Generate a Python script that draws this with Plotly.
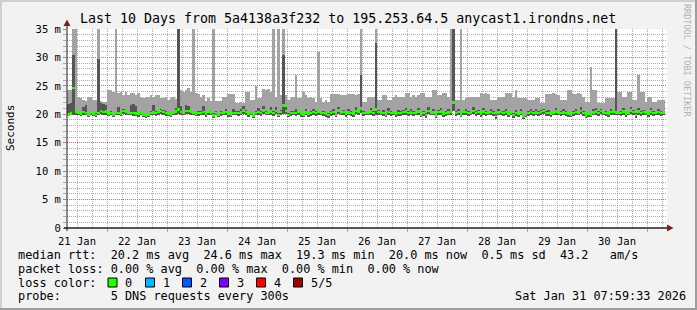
import plotly.graph_objects as go
import pandas as pd

# ---------------- data (ms), one value per hour, 240 hours ----------------
start = "2026-01-21 08:00"
end = "2026-01-31 08:00"

smoke_hi = [
 24.3,24.3,40,40,23.1,22.8,22.5,22.3,23.1,23.1,
 22.5,22.5,40,22.0,21.9,22.2,24.3,24.3,24.0,40,
 23.7,24.0,23.4,24.0,23.4,23.8,23.7,23.4,23.7,23.0,
 22.8,23.0,23.1,23.4,23.0,23.4,23.4,22.9,22.8,23.0,
 22.6,22.8,23.0,22.7,40,24.3,24.0,24.3,24.6,24.0,
 40,23.7,23.6,23.0,23.4,22.4,22.8,22.3,40,22.3,
 22.3,22.3,23.1,23.1,23.5,23.5,23.5,22.0,21.9,22.1,
 22.0,24.0,24.0,22.5,22.5,25.0,22.8,22.8,24.5,24.2,
 24.5,24.0,40,23.1,40,23.4,40,23.4,22.5,22.8,
 23.1,26.9,22.8,22.8,24.0,23.4,22.8,23.1,22.8,22.2,
 31.0,22.8,22.2,22.5,22.2,23.5,23.5,23.6,23.5,23.4,
 23.4,23.4,23.5,23.6,23.5,23.4,23.5,40,22.2,22.2,
 23.1,23.1,23.1,40,22.5,22.5,23.4,23.4,22.5,22.5,
 23.1,23.4,23.1,23.1,23.1,23.7,23.7,23.1,23.4,23.1,
 23.4,23.7,23.7,23.1,23.1,23.1,24.3,24.3,23.4,23.4,
 23.8,23.8,23.1,40,40,22.5,22.5,40,22.5,22.8,
 23.1,23.1,23.1,23.1,23.1,23.7,23.5,23.7,23.5,22.5,
 22.5,22.5,23.1,23.1,23.1,23.7,23.7,23.7,23.1,24.3,
 22.8,22.8,22.8,22.8,22.5,22.5,22.5,22.8,22.8,21.9,
 21.9,23.5,23.6,23.5,23.7,23.5,23.4,22.5,22.5,22.5,
 24.3,24.3,23.6,23.5,23.7,23.5,23.1,22.2,22.2,28.4,
 24.3,24.3,21.9,21.9,21.9,22.8,22.8,22.8,22.8,40,
 24.0,24.0,23.1,23.1,24.0,24.0,22.5,22.5,26.9,24.0,
 24.0,22.2,23.1,23.1,22.2,22.2,22.5,22.5,22.5,None]

smoke_dark_top = [
 21.8,22.0,30.4,20.8,20.6,20.4,21.2,21.6,20.3,20.6,
 20.4,20.2,29.8,22.3,22.0,21.6,20.4,20.5,20.3,20.6,
 21.3,20.4,20.9,20.8,20.6,21.6,21.8,21.5,20.4,20.6,
 20.3,20.1,20.3,20.5,21.6,20.5,20.8,20.9,20.7,20.5,
 20.4,20.3,20.6,21.1,40,21.5,20.6,21.7,21.4,20.8,
 20.6,20.4,20.5,20.5,21.4,20.4,20.8,20.6,20.2,20.5,
 20.3,20.5,20.6,21.0,20.4,20.3,20.9,20.5,20.5,21.0,
 21.4,20.7,20.4,20.6,20.1,20.5,21.1,20.5,21.4,20.5,
 20.6,21.2,20.5,21.2,20.2,20.7,30.4,21.2,20.2,20.5,
 20.5,21.0,20.8,20.4,20.3,21.0,20.4,20.5,21.0,20.5,
 20.8,20.6,20.5,20.4,20.2,20.5,21.0,20.3,21.3,20.6,
 20.7,20.4,20.9,20.5,20.4,21.2,20.8,26.9,20.5,20.6,
 20.6,21.1,20.5,32.5,20.7,20.6,20.8,20.3,21.1,20.5,
 20.6,20.4,20.8,20.5,20.7,21.1,20.5,21.0,20.5,20.6,
 21.1,20.3,20.5,20.2,21.2,20.6,20.9,20.1,20.7,21.1,
 20.4,20.5,20.9,20.8,40,20.5,21.0,20.3,20.8,21.0,
 20.5,20.6,21.2,20.5,20.7,20.4,21.1,20.5,20.6,21.0,
 20.5,20.0,20.9,20.8,20.5,21.0,20.4,20.6,20.2,20.8,
 20.4,20.9,19.9,20.3,20.5,21.0,20.5,20.9,20.5,20.7,
 21.0,20.5,20.8,20.4,20.6,21.1,20.6,20.5,20.9,20.5,
 20.4,20.3,20.5,21.0,20.6,21.2,20.5,20.1,20.4,20.3,
 20.9,21.1,20.5,21.0,20.6,20.5,20.4,21.0,20.8,40,
 20.6,20.5,21.1,20.4,20.6,21.3,20.7,20.2,21.1,20.5,
 20.7,20.6,20.4,21.1,20.5,20.6,21.0,20.5,20.6,None]

smoke_lo = [
 19.7,19.8,19.9,19.9,19.8,19.7,19.9,19.8,19.6,19.8,
 19.7,19.5,19.8,20.0,19.9,19.9,19.7,19.8,19.6,19.8,
 19.8,19.7,20.0,19.9,19.8,19.8,19.7,19.7,19.6,19.8,
 19.6,19.4,19.6,19.8,19.8,19.7,19.9,20.0,19.9,19.7,
 19.7,19.6,19.8,19.9,20.0,19.9,19.8,20.0,20.0,19.9,
 19.8,19.7,19.7,19.8,19.9,19.6,19.9,19.8,19.4,19.8,
 19.6,19.7,19.8,19.9,19.6,19.5,19.8,19.8,19.7,19.8,
 20.0,19.9,19.6,19.8,19.3,19.8,19.9,19.7,20.1,19.8,
 19.8,19.9,19.7,20.0,19.5,19.9,20.0,20.0,19.5,19.7,
 19.8,19.7,19.9,19.6,19.5,19.8,19.6,19.7,19.9,19.7,
 19.9,19.8,19.7,19.6,19.4,19.7,19.9,19.5,20.0,19.8,
 19.9,19.6,19.8,19.7,19.6,20.0,19.9,20.2,19.7,19.8,
 19.8,19.9,19.7,19.9,19.9,19.8,19.7,19.5,19.9,19.7,
 19.8,19.6,19.7,19.7,19.9,19.9,19.7,19.8,19.7,19.8,
 19.9,19.5,19.7,19.4,20.0,19.8,19.8,19.3,19.9,19.9,
 19.6,19.7,19.8,19.9,20.5,19.7,19.9,19.5,19.9,19.9,
 19.7,19.8,20.0,19.7,19.9,19.6,19.9,19.7,19.8,19.9,
 19.7,19.2,19.8,19.9,19.7,19.9,19.6,19.8,19.4,19.7,
 19.6,19.8,19.2,19.5,19.7,19.9,19.7,19.8,19.7,19.9,
 20.0,19.7,19.7,19.6,19.8,19.9,19.8,19.7,19.8,19.7,
 19.6,19.5,19.7,19.9,19.8,20.0,19.7,19.3,19.6,19.5,
 19.8,19.9,19.7,20.0,19.8,19.7,19.6,19.9,19.9,19.8,
 19.8,19.7,19.9,19.6,19.8,20.1,19.9,19.4,19.9,19.7,
 19.9,19.8,19.6,19.9,19.7,19.8,19.9,19.7,19.8,None]

median_rtt = [
 20.0,20.1,24.6,20.5,20.3,20.1,20.4,20.2,20.0,20.3,
 20.1,19.9,20.2,20.6,20.4,20.5,20.1,20.2,20.0,20.3,
 20.2,20.1,20.6,20.5,20.3,20.2,20.2,20.1,20.1,20.3,
 20.0,19.8,20.0,20.2,20.3,20.2,20.5,20.6,20.4,20.2,
 20.1,20.0,20.3,20.5,20.8,20.4,20.3,20.6,20.6,20.5,
 20.3,20.1,20.2,20.2,20.4,20.1,20.5,20.3,19.8,20.2,
 20.0,20.2,20.3,20.4,20.1,20.0,20.2,20.2,20.2,20.3,
 20.7,20.4,20.1,20.3,19.8,20.2,20.4,20.2,20.7,20.2,
 20.3,20.5,20.2,20.6,19.9,20.4,21.5,20.6,19.9,20.2,
 20.2,20.2,20.5,20.1,20.0,20.3,20.1,20.2,20.4,20.2,
 20.5,20.3,20.2,20.1,19.9,20.2,20.4,20.0,20.7,20.3,
 20.4,20.1,20.3,20.2,20.1,20.6,20.5,21.0,20.2,20.3,
 20.3,20.5,20.2,20.8,20.4,20.3,20.2,20.0,20.4,20.2,
 20.3,20.1,20.2,20.2,20.4,20.5,20.2,20.3,20.2,20.3,
 20.5,20.0,20.2,19.9,20.6,20.3,20.3,19.8,20.4,20.5,
 20.1,20.2,20.3,20.5,22.1,20.2,20.4,20.0,20.5,20.4,
 20.2,20.3,20.6,20.2,20.4,20.1,20.5,20.2,20.3,20.4,
 20.2,19.7,20.3,20.5,20.2,20.4,20.1,20.3,19.9,20.2,
 20.1,20.3,19.6,20.0,20.2,20.4,20.2,20.3,20.2,20.4,
 20.6,20.2,20.2,20.1,20.3,20.5,20.3,20.2,20.3,20.2,
 20.1,20.0,20.2,20.4,20.3,20.6,20.2,19.8,20.1,20.0,
 20.3,20.5,20.2,20.6,20.3,20.2,20.1,20.4,20.5,20.3,
 20.3,20.2,20.5,20.1,20.3,20.7,20.4,19.9,20.5,20.2,
 20.4,20.3,20.1,20.5,20.2,20.3,20.4,20.2,20.3,None]

y_ticks = [0, 5, 10, 15, 20, 25, 30, 35]
y_tick_labels = ["0", "5 m", "10 m", "15 m", "20 m", "25 m", "30 m", "35 m"]

title = "Last 10 Days from 5a4138a3f232 to 195.253.64.5 anycast1.irondns.net"
legend_rows = [
    "median rtt:  20.2 ms avg  24.6 ms max  19.3 ms min  20.0 ms now  0.5 ms sd  43.2   am/s",
    "packet loss: 0.00 % avg  0.00 % max  0.00 % min  0.00 % now",
    "loss color:",
    "probe:       5 DNS requests every 300s",
]
stamp = "Sat Jan 31 07:59:33 2026"
loss_labels = ["0", "1", "2", "3", "4", "5/5"]
loss_colors = ["#26ff00", "#00b8ff", "#0059ff", "#7e00ff", "#ff0000", "#a10000"]

# ---------------- figure ----------------
W, H = 697, 310
L, R, T, B = 67, 667, 29, 228
FONT = "DejaVu Sans Mono"
LIGHT = "rgb(163,163,163)"
DARK = "rgb(86,86,86)"
BRICK = 0.45

times = pd.date_range(start, periods=len(median_rtt), freq="h")
step_ms = 3600 * 1000


def nz(a, b):
    return [None if (p is None or q is None) else p - q for p, q in zip(a, b)]


fig = go.Figure()
fig.add_trace(go.Bar(x=times, base=smoke_lo, y=nz(smoke_dark_top, smoke_lo),
                     width=step_ms, offset=0, marker=dict(color=DARK, line=dict(width=0)),
                     hoverinfo="skip"))
fig.add_trace(go.Bar(x=times, base=smoke_dark_top, y=nz(smoke_hi, smoke_dark_top),
                     width=step_ms, offset=0, marker=dict(color=LIGHT, line=dict(width=0)),
                     hoverinfo="skip"))
fig.add_trace(go.Bar(x=times,
                     base=[None if m is None else m - BRICK / 2 for m in median_rtt],
                     y=[None if m is None else BRICK for m in median_rtt],
                     width=step_ms, offset=0,
                     marker=dict(color=loss_colors[0], line=dict(width=0)),
                     hoverinfo="skip"))

GRID = "rgba(143,143,143,0.75)"
MGRID = "rgba(222,79,79,0.6)"

fig.update_layout(
    width=W, height=H,
    margin=dict(l=L, r=W - R, t=T, b=H - B),
    paper_bgcolor="#f2f2f2", plot_bgcolor="#ffffff",
    barmode="overlay", bargap=0, showlegend=False,
    font=dict(family=FONT, size=10, color="#000000"),
)
fig.update_xaxes(
    type="date", range=[start, end],
    tick0="2026-01-21", dtick=86400000, ticklabelmode="period", tickformat="%d %b",
    showgrid=True, gridcolor=MGRID, griddash="1px,1px", gridwidth=1,
    ticks="outside", ticklen=3, tickcolor=MGRID,
    minor=dict(dtick=6 * 3600000, tick0="2026-01-21", showgrid=True, gridcolor=GRID,
               griddash="1px,1px", ticks="", gridwidth=1),
    showline=False, zeroline=False,
    tickfont=dict(family=FONT, size=10.5, color="#000"),
)
fig.update_yaxes(
    range=[0, 35], tickvals=y_ticks, ticktext=y_tick_labels,
    showgrid=True, gridcolor=MGRID, griddash="1px,1px", gridwidth=1,
    ticks="outside", ticklen=3, tickcolor=MGRID,
    minor=dict(dtick=1, showgrid=True, gridcolor=GRID, griddash="1px,1px",
               ticks="outside", ticklen=3, tickcolor=GRID),
    showline=False, zeroline=False,
    tickfont=dict(family=FONT, size=10.5, color="#000"),
)


def px(xp):
    return (xp - L) / (R - L)


def py(yp):
    return (B - yp) / (B - T)


shapes = []
shapes.append(dict(type="line", xref="paper", yref="paper", x0=px(64), x1=px(669), y0=py(228), y1=py(228),
                   line=dict(color="#1f1f1f", width=1.5)))
shapes.append(dict(type="line", xref="paper", yref="paper", x0=px(67), x1=px(67), y0=py(231), y1=py(24),
                   line=dict(color="#1f1f1f", width=1)))
shapes.append(dict(type="path", xref="paper", yref="paper",
                   path=f"M {px(667)} {py(224.5)} L {px(673.5)} {py(228)} L {px(667)} {py(231.5)} Z",
                   fillcolor="#7f1f1f", line=dict(width=0)))
shapes.append(dict(type="path", xref="paper", yref="paper",
                   path=f"M {px(63.5)} {py(26)} L {px(67)} {py(19.5)} L {px(70.5)} {py(26)} Z",
                   fillcolor="#7f1f1f", line=dict(width=0)))
shapes.append(dict(type="rect", xref="paper", yref="paper", x0=px(0), x1=px(697), y0=py(0), y1=py(2),
                   fillcolor="#cfcfcf", line=dict(width=0)))
shapes.append(dict(type="rect", xref="paper", yref="paper", x0=px(0), x1=px(2), y0=py(0), y1=py(310),
                   fillcolor="#cfcfcf", line=dict(width=0)))
shapes.append(dict(type="rect", xref="paper", yref="paper", x0=px(0), x1=px(697), y0=py(308), y1=py(310),
                   fillcolor="#9e9e9e", line=dict(width=0)))
shapes.append(dict(type="rect", xref="paper", yref="paper", x0=px(695), x1=px(697), y0=py(0), y1=py(310),
                   fillcolor="#9e9e9e", line=dict(width=0)))

annotations = []


def txt(x, y, s, size=11.85, color="#000", anchor="left", angle=0):
    annotations.append(dict(x=px(x), y=py(y), xref="paper", yref="paper",
                            text=s.replace(" ", "\u00a0"),
                            showarrow=False, xanchor=anchor, yanchor="middle", textangle=angle,
                            font=dict(family=FONT, size=size, color=color)))


txt(348, 18.5, title, size=13.3, anchor="center")
txt(687, 60, "RRDTOOL / TOBI OETIKER", size=8.5, color="#b3b3b3", anchor="center", angle=90)
txt(10, 128, "Seconds", size=11, anchor="center", angle=-90)

row_y = [255, 268.5, 282.5, 296]
for yy, s in zip(row_y, legend_rows):
    txt(15.5, yy, s)
txt(513, row_y[3], stamp)

box_x = [108, 145.5, 182.5, 219.5, 256.5, 293.5]
for bx, lab, col in zip(box_x, loss_labels, loss_colors):
    shapes.append(dict(type="rect", xref="paper", yref="paper", x0=px(bx), x1=px(bx + 9),
                       y0=py(278), y1=py(287), fillcolor=col, line=dict(color="#000", width=1)))
    txt(bx + 15, row_y[2], lab)

fig.update_layout(shapes=shapes, annotations=annotations)
fig.write_html("out.html")
